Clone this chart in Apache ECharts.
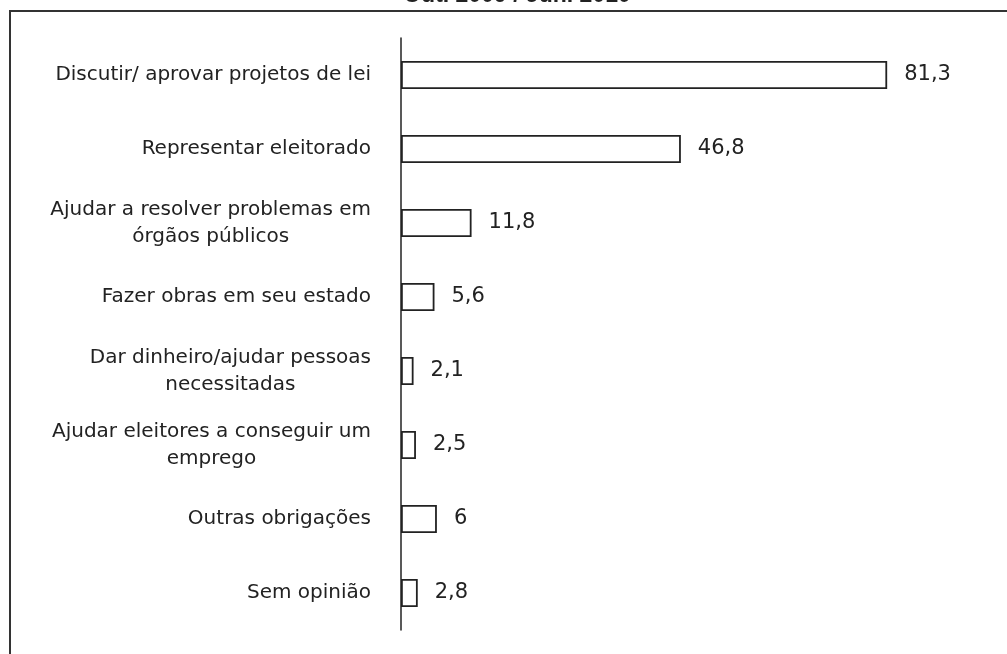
<!DOCTYPE html>
<html>
<head>
<meta charset="utf-8">
<script src="https://cdn.jsdelivr.net/npm/echarts@6/dist/echarts.min.js"></script>
<style>
  html, body { margin: 0; padding: 0; background: #fff; }
  #chart { width: 1007px; height: 654px; }
</style>
</head>
<body>
<div id="chart"></div>
<script>
var mychart = echarts.init(document.getElementById('chart'));

const titulo = 'Out. 2009 / Jun. 2010';
// prettier-ignore
const categorias = [
    'Discutir/ aprovar projetos de lei',
    'Representar eleitorado',
    'Ajudar a resolver problemas em\nórgãos públicos',
    'Fazer obras em seu estado',
    'Dar dinheiro/ajudar pessoas\nnecessitadas',
    'Ajudar eleitores a conseguir um\nemprego',
    'Outras obrigações',
    'Sem opinião'
];
// prettier-ignore
const valores = [81.3, 46.8, 11.8, 5.6, 2.1, 2.5, 6, 2.8];

option = {
    backgroundColor: '#fff',
    animation: false,
    title: {
        text: titulo,
        left: 512,
        textAlign: 'center',
        top: -21,
        textStyle: {
            fontFamily: 'Liberation Sans',
            fontWeight: 'bold',
            fontSize: 23,
            color: '#222'
        }
    },
    graphic: [
        {
            type: 'rect',
            shape: { x: 10, y: 11, width: 1010, height: 700 },
            style: { fill: 'none', stroke: '#333', lineWidth: 2 },
            silent: true
        }
    ],
    grid: {
        left: 401,
        top: 38,
        width: 598,
        height: 592
    },
    xAxis: {
        type: 'value',
        min: 0,
        max: 100,
        show: false
    },
    yAxis: {
        type: 'category',
        inverse: true,
        data: categorias,
        axisLine: {
            show: true,
            lineStyle: { color: '#222', width: 1.5 }
        },
        axisTick: { show: false },
        axisLabel: {
            margin: 30,
            align: 'right',
            fontFamily: 'DejaVu Sans',
            fontSize: 20,
            color: '#222',
            lineHeight: 27,
            formatter: function (v) {
                return v.split('\n').map(function (l) {
                    return '{c|' + l + '}';
                }).join('\n');
            },
            rich: {
                c: {
                    align: 'center',
                    fontFamily: 'DejaVu Sans',
                    fontSize: 20,
                    color: '#222',
                    lineHeight: 27
                }
            }
        }
    },
    series: [
        {
            type: 'bar',
            data: valores,
            barWidth: 28,
            itemStyle: {
                color: '#fff',
                borderColor: '#222',
                borderWidth: 1.8
            },
            label: {
                show: true,
                position: 'right',
                distance: 17,
                fontFamily: 'DejaVu Sans',
                fontSize: 21,
                color: '#222',
                formatter: function (p) {
                    return String(p.value).replace('.', ',');
                }
            }
        }
    ]
};
mychart.setOption(option, true);
</script>
</body>
</html>
